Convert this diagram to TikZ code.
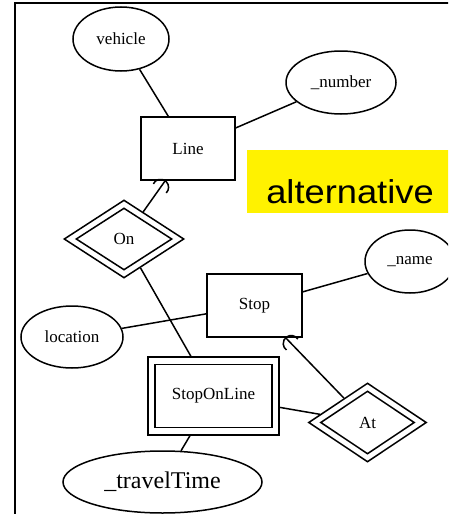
\documentclass[tikz,border=0pt]{standalone}
\usepackage{fontspec}
\usepackage{graphicx}
\setmainfont{Liberation Serif}
\newfontfamily\labelsans{Liberation Sans}
\usetikzlibrary{shapes.geometric,calc}
\begin{document}
\begin{tikzpicture}[x=1pt,y=1pt,
  er/.style={draw, line width=1.5pt, inner sep=0pt, font=\fontsize{17}{17}\selectfont},
  entity/.style={er, rectangle},
  attr/.style={er, ellipse},
  rel/.style={er, diamond},
  link/.style={line width=1.5pt},
  tagtext/.style={font=\labelsans\fontsize{33}{33}\selectfont, anchor=base, inner sep=0pt},
]
\useasboundingbox (0,0) rectangle (448,-514);
\clip (0,0) rectangle (448,-514);

% frame and highlighted caption
\draw[line width=2.2pt] (15,-3) rectangle (470,-540);
\fill[yellow] (247,-150) rectangle (460,-213);
\node[tagtext] (alt) at (350,-203.5) {\scalebox{1.1}[1]{alternative}};

% attributes
\node[attr, minimum width=96pt, minimum height=64pt] (vehicle) at (121,-39) {vehicle};
\node[attr, minimum width=110pt, minimum height=63pt] (number) at (341,-82.5) {\_number};
\node[attr, minimum width=90pt, minimum height=63pt] (name) at (410,-261.5) {\_name};
\node[attr, minimum width=102pt, minimum height=62pt] (location) at (72,-337) {location};
\node[attr, minimum width=199pt, minimum height=62pt, font=\fontsize{24}{24}\selectfont] (travel) at (162.5,-482) {\_travelTime};

% entities
\node[entity, minimum width=94pt, minimum height=63pt] (Line) at (188,-148.5) {Line};
\node[entity, minimum width=95pt, minimum height=63pt] (Stop) at (254.5,-305.5) {Stop};
\node[entity, minimum width=131pt, minimum height=78pt] (SOL) at (213.5,-396) {};
\node[entity, minimum width=117pt, minimum height=63pt] (SOL-in) at (213.5,-396) {StopOnLine};

% weak relationships
\node[rel, minimum width=120pt, minimum height=78pt] (On) at (124,-239) {};
\node[rel, minimum width=96pt, minimum height=62pt] (On-in) at (124,-239) {On};
\node[rel, minimum width=118pt, minimum height=79pt] (At) at (367.5,-422.5) {};
\node[rel, minimum width=94pt, minimum height=63pt] (At-in) at (367.5,-422.5) {At};

% plain connectors
\draw[link] (vehicle) -- (Line);
\draw[link] (number) -- (Line);
\draw[link] (location) -- (Stop);
\draw[link] (Stop) -- (name);
\draw[link] (On) -- (SOL);
\draw[link] (SOL) -- (At);
\draw[link] (SOL) -- (travel);

% connectors with a curved end
\draw[link] (On) -- coordinate[pos=1] (onTip) (Line);
\draw[link] let \p1=($(onTip)-(On)$), \n1={atan2(\y1,\x1)} in
  ($(onTip)!8pt!(On)$) ++(\n1-100:8pt) arc[start angle=\n1-100, end angle=\n1+100, radius=8pt];
\draw[link] (At) -- coordinate[pos=1] (atTip) (Stop);
\draw[link] let \p1=($(atTip)-(At)$), \n1={atan2(\y1,\x1)} in
  ($(atTip)!8pt!(At)$) ++(\n1-100:8pt) arc[start angle=\n1-100, end angle=\n1+100, radius=8pt];
\end{tikzpicture}
\end{document}
